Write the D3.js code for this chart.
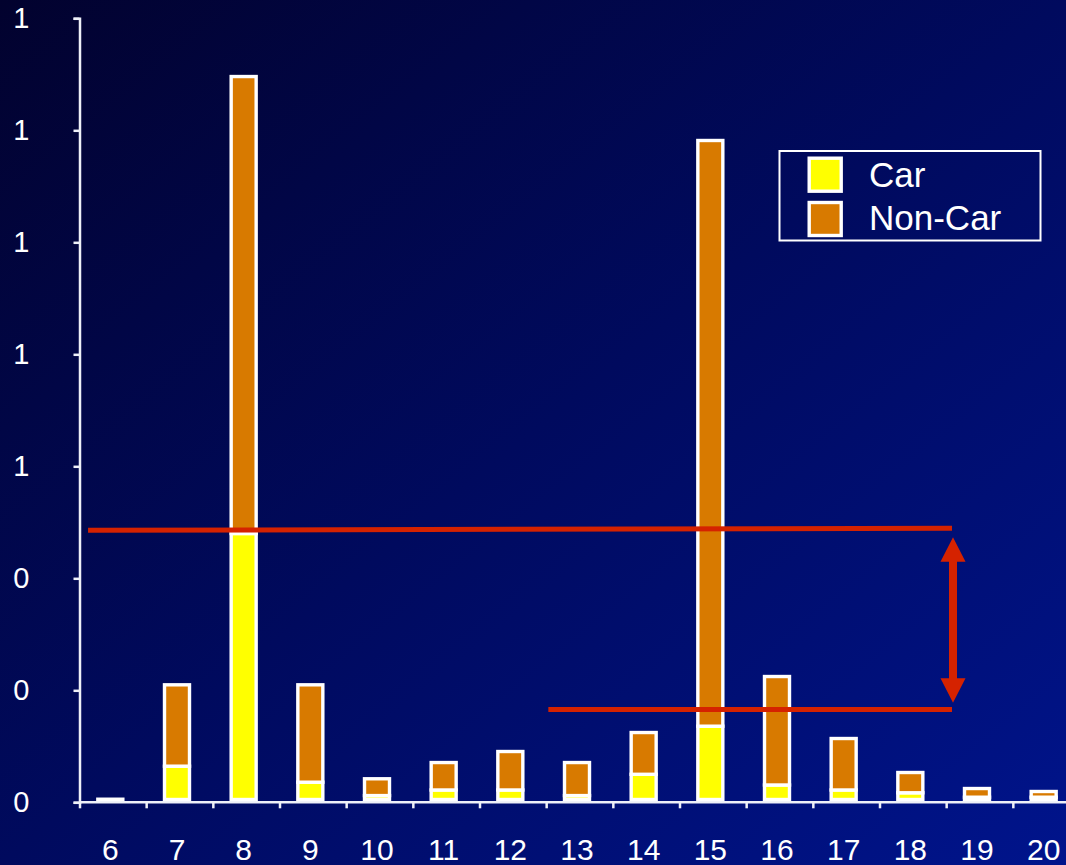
<!DOCTYPE html>
<html>
<head>
<meta charset="utf-8">
<script src="https://cdn.jsdelivr.net/npm/d3@7/dist/d3.min.js"></script>
<style>
  html, body { margin: 0; padding: 0; background: #000033; }
  svg { display: block; }
  text { font-family: "Liberation Sans", Arial, sans-serif; }
</style>
</head>
<body>
<svg id="chart" width="1066" height="865"></svg>
<script>
// ---------- data ----------
const categories = ["6","7","8","9","10","11","12","13","14","15","16","17","18","19","20"];
const carValues    = [0,      0.0595, 0.475, 0.0309, 0.007, 0.017, 0.017, 0.007, 0.045,  0.1309, 0.0259, 0.017,  0.012,  0.0041, 0.0041];
const nonCarValues = [0.0005, 0.1453, 0.816, 0.1739, 0.030, 0.049, 0.0687, 0.059, 0.0746, 1.0459, 0.1937, 0.0919, 0.0362, 0.0155, 0.0102];
const seriesNames = ["Car", "Non-Car"];
const yTickValues = [0, 0.2, 0.4, 0.6, 0.8, 1.0, 1.2, 1.4];
// annotation lines (x in category units, y in value units)
const refLines = [
  { x0: 5.666, x1: 18.625, y0: 0.4857, y1: 0.4895 },
  { x0: 12.57, x1: 18.625, y0: 0.1655, y1: 0.1655 }
];
const arrowSpec = { x: 18.64, yTop: 0.4732, yBottom: 0.1779 };

// ---------- setup ----------
const W = 1066, H = 865;
const svg = d3.select("#chart");
const defs = svg.append("defs");
const grad = defs.append("linearGradient").attr("id", "bg")
  .attr("x1", "0%").attr("y1", "0%").attr("x2", "100%").attr("y2", "100%");
grad.append("stop").attr("offset", "0%").attr("stop-color", "#02022e");
grad.append("stop").attr("offset", "50%").attr("stop-color", "#000a5e");
grad.append("stop").attr("offset", "100%").attr("stop-color", "#00148c");
svg.append("rect").attr("width", W).attr("height", H).attr("fill", "url(#bg)");

const colors = { Car: "#ffff00", "Non-Car": "#d87a00" };
const red = "#d52200";

const y = d3.scaleLinear().domain([0, 1.4]).range([802.3, 18.3]);
const xb = d3.scaleBand().domain(categories).range([80, 1080]).padding(0);
const bw = xb.bandwidth();
const labelShift = -3;
const barLift = -2.8;
const barWidth = 25;
const xc = d3.scaleLinear().domain([6, 20])
  .range([xb("6") + bw / 2 + labelShift, xb("20") + bw / 2 + labelShift]);

// ---------- axes ----------
const yAxis = d3.axisLeft(y).tickValues(yTickValues).tickFormat(d3.format(".0f"))
  .tickSize(6).tickSizeOuter(6).tickPadding(44);
const gy = svg.append("g").attr("transform", "translate(79.5,0)").call(yAxis);
gy.selectAll("path, line").attr("stroke", "#eef0f8").attr("stroke-width", 2.5);
gy.selectAll("text").attr("fill", "#ffffff").attr("font-size", 29)
  .attr("font-family", "'Liberation Sans', Arial, sans-serif");

const xAxis = d3.axisBottom(xb).tickSize(0).tickPadding(36);
const gx = svg.append("g").attr("transform", `translate(${labelShift},${y(0)})`).call(xAxis);
gx.select(".domain").remove();
gx.selectAll("text").attr("fill", "#ffffff").attr("font-size", 30)
  .attr("font-family", "'Liberation Sans', Arial, sans-serif");
// x axis line and tick marks at band boundaries
svg.append("line").attr("x1", 79).attr("x2", W).attr("y1", y(0)).attr("y2", y(0))
  .attr("stroke", "#eef0f8").attr("stroke-width", 2.5);
svg.append("g").selectAll("line").data(categories).join("line")
  .attr("x1", d => xb(d)).attr("x2", d => xb(d))
  .attr("y1", y(0)).attr("y2", y(0) + 6)
  .attr("stroke", "#eef0f8").attr("stroke-width", 2.5);

// ---------- bars ----------
const rows = categories.map((c, i) => ({ cat: c, "Car": carValues[i], "Non-Car": nonCarValues[i] }));
const stacked = d3.stack().keys(seriesNames)(rows);
const gb = svg.append("g").attr("transform", `translate(${labelShift},${barLift})`);
gb.selectAll("g").data(stacked).join("g")
  .attr("fill", d => colors[d.key])
  .selectAll("rect").data(d => d).join("rect")
  .attr("x", d => xb(d.data.cat) + bw / 2 - barWidth / 2)
  .attr("width", barWidth)
  .attr("y", d => y(d[1]))
  .attr("height", d => Math.max(0, y(d[0]) - y(d[1])))
  .attr("stroke", "#ffffff").attr("stroke-width", 3.4);

// ---------- annotations ----------
svg.append("g").selectAll("line").data(refLines).join("line")
  .attr("x1", d => xc(d.x0)).attr("x2", d => xc(d.x1))
  .attr("y1", d => y(d.y0)).attr("y2", d => y(d.y1))
  .attr("stroke", red).attr("stroke-width", 5);

const ax = xc(arrowSpec.x), yt = y(arrowSpec.yTop), ybm = y(arrowSpec.yBottom);
const headW = 12.5, headH = 24.4, shaftW = 4;
const p = d3.path();
p.moveTo(ax, yt);
p.lineTo(ax + headW, yt + headH);
p.lineTo(ax + shaftW, yt + headH);
p.lineTo(ax + shaftW, ybm - headH);
p.lineTo(ax + headW, ybm - headH);
p.lineTo(ax, ybm);
p.lineTo(ax - headW, ybm - headH);
p.lineTo(ax - shaftW, ybm - headH);
p.lineTo(ax - shaftW, yt + headH);
p.lineTo(ax - headW, yt + headH);
p.closePath();
svg.append("path").attr("d", p.toString()).attr("fill", red);

// ---------- legend ----------
const lg = svg.append("g");
lg.append("rect").attr("x", 779.5).attr("y", 151).attr("width", 261).attr("height", 89.5)
  .attr("fill", "none").attr("stroke", "#ffffff").attr("stroke-width", 2);
const legendRows = [{ name: "Car", sy: 158.2, ty: 187.3 }, { name: "Non-Car", sy: 202.5, ty: 230 }];
lg.selectAll("rect.sw").data(legendRows).join("rect").attr("class", "sw")
  .attr("x", 809.2).attr("y", d => d.sy).attr("width", 32).attr("height", 33)
  .attr("fill", d => colors[d.name]).attr("stroke", "#ffffff").attr("stroke-width", 3.4);
lg.selectAll("text").data(legendRows).join("text")
  .attr("x", 869).attr("y", d => d.ty)
  .attr("fill", "#ffffff").attr("font-size", 35)
  .text(d => d.name);
</script>
</body>
</html>
